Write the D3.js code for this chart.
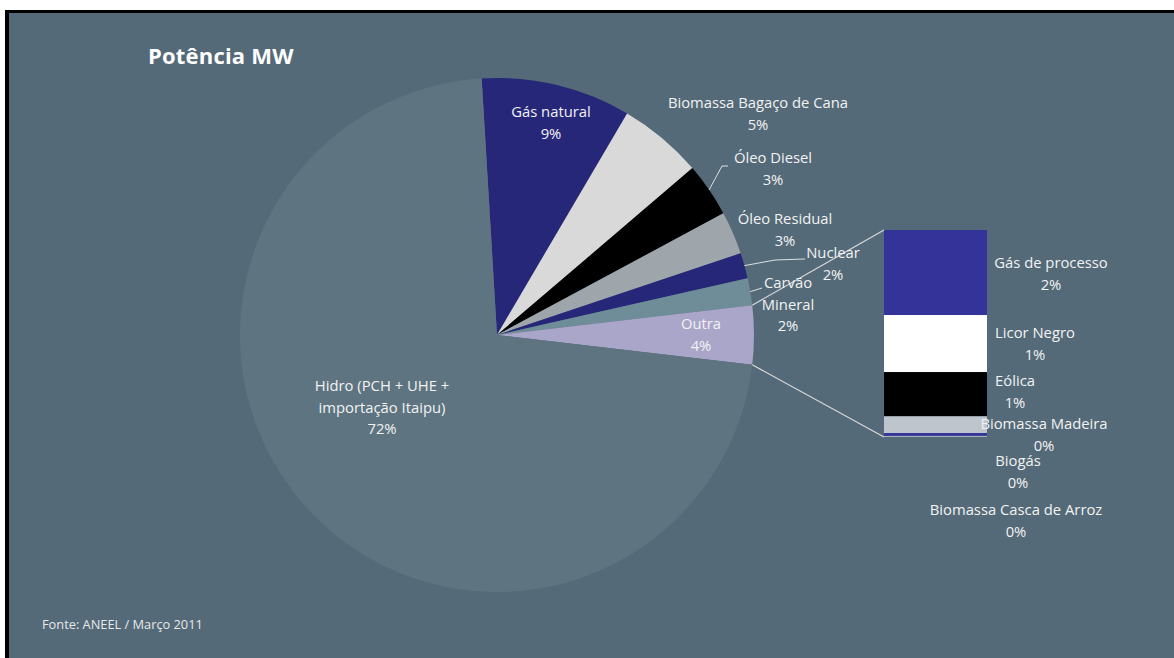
<!DOCTYPE html>
<html><head><meta charset="utf-8">
<script src="https://cdn.jsdelivr.net/npm/d3@7/dist/d3.min.js"></script>
<style>
html,body{margin:0;padding:0;background:#fff;}
svg{display:block;}
text{font-family:"Open Sans","Noto Sans",sans-serif;}
</style></head>
<body>
<svg id="c" width="1174" height="658"></svg>
<script>
// Main pie data (percent of installed power)
const mainCategories = ["Gás natural","Biomassa Bagaço de Cana","Óleo Diesel","Óleo Residual","Nuclear","Carvão Mineral","Outra","Hidro (PCH + UHE + importação Itaipu)"];
const subCategories = ["Gás de processo","Licor Negro","Eólica","Biomassa Madeira","Biogás","Biomassa Casca de Arroz"];
const subValues = [1.52,1.02,0.79,0.30,0.05,0.02];
const mainValues = [9.4,5.3,3.4,2.7,1.6,1.7,d3.sum(subValues),72.2];
const mainColors = ["#27277a","#d9d9d9","#000000","#9ea5ab","#27277a","#6f8c99","#a9a6c9","#5e7581"];
const subColors = ["#333399","#ffffff","#000000","#bfc5cc","#333399","#aab0b8"];

const svg = d3.select("#c");
svg.append("rect").attr("x",9).attr("y",12).attr("width",1165).attr("height",646).attr("fill","#546a78");
svg.append("rect").attr("x",5).attr("y",10).attr("width",4).attr("height",648).attr("fill","#000");
svg.append("rect").attr("x",5).attr("y",10).attr("width",1169).attr("height",3).attr("fill","#000");

const cx = 497, cy = 335, R = 257;
const total = d3.sum(mainValues);
const outraIdx = 6;
const before = d3.sum(mainValues.slice(0,outraIdx)) + mainValues[outraIdx]/2;
const start = Math.PI/2 - before/total*2*Math.PI;
const pie = d3.pie().sort(null).startAngle(start).endAngle(start+2*Math.PI);
const arcs = pie(mainValues);
const arc = d3.arc().innerRadius(0).outerRadius(R);
const g = svg.append("g").attr("transform",`translate(${cx},${cy})`);
g.selectAll("path").data(arcs).join("path").attr("d",arc).attr("fill",(d,i)=>mainColors[i]);

// Bar of pie
const barX = 884, barW = 103, barTop = 230, barBot = 437;
const y = d3.scaleLinear().domain([0,d3.sum(subValues)]).range([barTop,barBot]);
let acc = 0;
const stacks = subValues.map(v=>{const s={y0:acc,y1:acc+v};acc+=v;return s;});
svg.selectAll("rect.sub").data(stacks).join("rect").attr("class","sub")
  .attr("x",barX).attr("width",barW).attr("y",d=>y(d.y0)).attr("height",d=>y(d.y1)-y(d.y0))
  .attr("fill",(d,i)=>subColors[i]);

// connector lines
const oa = arcs[outraIdx];
const pt = a=>[cx+R*Math.sin(a), cy-R*Math.cos(a)];
const p1 = pt(oa.startAngle), p2 = pt(oa.endAngle);
svg.append("line").attr("x1",p1[0]).attr("y1",p1[1]).attr("x2",barX).attr("y2",barTop).attr("stroke","#d8d8d8").attr("stroke-width",1.2);
svg.append("line").attr("x1",p2[0]).attr("y1",p2[1]).attr("x2",barX).attr("y2",barBot).attr("stroke","#d8d8d8").attr("stroke-width",1.2);

const pct = d3.format(".0%");
const fs = 14.8;
function label(lines, x, yTop){
  const t = svg.append("text").attr("x",x).attr("y",yTop).attr("text-anchor","middle")
    .attr("fill","#f2f2f2").attr("font-size",fs);
  lines.forEach((l,k)=>t.append("tspan").attr("x",x).attr("dy",k?21.5:0).text(l));
}
// main labels
const mainLabelLines = [["Gás natural"],["Biomassa Bagaço de Cana"],["Óleo Diesel"],["Óleo Residual"],["Nuclear"],["Carvão","Mineral"],["Outra"],["Hidro (PCH + UHE +","importação Itaipu)"]];
const mainLabelPos = [[551,117],[758,108],[773,163],[785,224],[833,258],[788,288],[701,329],[382,391]];
mainLabelLines.forEach((ls,i)=>{
  label(ls.concat([pct(mainValues[i]/total)]), mainLabelPos[i][0], mainLabelPos[i][1]);
});
const subLabelPos = [[1051,268],[1035,338],[1015,386],[1044,429],[1018,466],[1016,515]];
subCategories.forEach((c,i)=>{
  label([c, pct(subValues[i]/total)], subLabelPos[i][0], subLabelPos[i][1]);
});

// leader lines
const lc = "#e0e0e0";
function leader(i, pts){
  const a = (arcs[i].startAngle+arcs[i].endAngle)/2;
  const p = pt(a);
  svg.append("polyline").attr("points",[p].concat(pts).map(q=>q.join(",")).join(" "))
    .attr("fill","none").attr("stroke",lc).attr("stroke-width",1);
}
leader(2,[[722,166],[728,166]]);
leader(4,[[775,260],[805,259]]);
leader(5,[[762,288]]);

// title & footer
svg.append("text").attr("x",148).attr("y",64).attr("fill","#ffffff").attr("font-size",22).attr("font-weight","bold")
  .style("letter-spacing","0.2px").text("Potência MW");
svg.append("text").attr("x",42).attr("y",629).attr("fill","#e8e8e8").attr("font-size",12.8).text("Fonte: ANEEL / Março 2011");
</script>
</body></html>
